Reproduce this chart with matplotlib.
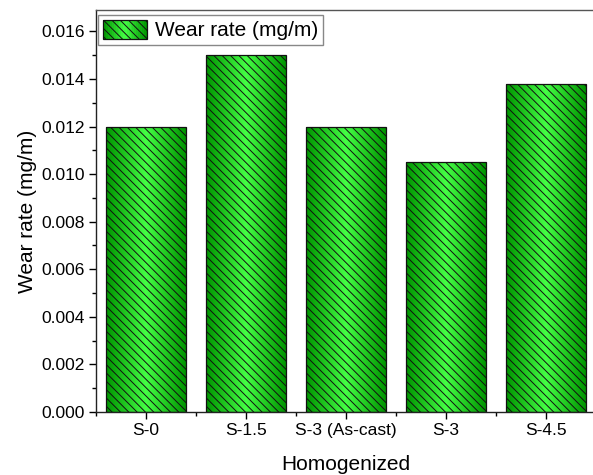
import numpy as np
import matplotlib
matplotlib.use("Agg")
import matplotlib.pyplot as plt
from matplotlib.patches import Rectangle
from matplotlib.legend_handler import HandlerBase
from matplotlib.ticker import MultipleLocator, FixedLocator, FormatStrFormatter

plt.rcParams['font.family'] = ['Liberation Sans', 'DejaVu Sans']
plt.rcParams['hatch.linewidth'] = 0.7
plt.rcParams['hatch.color'] = '#0a2a0a'

categories = ["S-0", "S-1.5", "S-3 (As-cast)", "S-3", "S-4.5"]
wear_rate = [0.0120, 0.0150, 0.0120, 0.0105, 0.0138]
series_name = "Wear rate (mg/m)"

edge_rgb = np.array([0.0, 0.58, 0.0])
center_rgb = np.array([0.27, 1.0, 0.27])


def gradient_colors(n):
    t = np.linspace(0, 1, n)
    w = 1 - np.abs(2 * t - 1)  # 0 at the edges, 1 in the middle
    return edge_rgb[None, :] * (1 - w[:, None]) + center_rgb[None, :] * w[:, None]


fig = plt.figure(figsize=(5.93, 4.75), dpi=100)
ax = fig.add_axes([96 / 593, 1 - 412 / 475, 500 / 593, 402 / 475])

x = np.arange(len(categories))
width = 0.8
grad_img = gradient_colors(256)[None, :, :]

bars = ax.bar(x, wear_rate, width=width, facecolor='none', edgecolor='none', zorder=2)
for b in bars:
    x0, y0 = b.get_x(), b.get_y()
    w, h = b.get_width(), b.get_height()
    im = ax.imshow(grad_img, extent=(x0, x0 + w, y0, y0 + h), aspect='auto',
                   interpolation='bilinear', zorder=2)
    im.set_clip_path(b)
    ax.add_patch(Rectangle((x0, y0), w, h, facecolor='none', edgecolor='#111111',
                           hatch='\\\\\\\\', linewidth=0.9, zorder=3))


class GradientHatchHandler(HandlerBase):
    def create_artists(self, legend, orig_handle, xdescent, ydescent, width, height,
                       fontsize, trans):
        n = 24
        cols = gradient_colors(n)
        artists = []
        sw = width / n
        for i in range(n):
            artists.append(Rectangle((-xdescent + i * sw, -ydescent), sw * 1.05, height,
                                     facecolor=cols[i], edgecolor='none', transform=trans))
        artists.append(Rectangle((-xdescent, -ydescent), width, height, facecolor='none',
                                 edgecolor='#111111', hatch='\\\\\\\\', linewidth=0.9,
                                 transform=trans))
        return artists


handle = Rectangle((0, 0), 1, 1)
leg = ax.legend([handle], [series_name], handler_map={Rectangle: GradientHatchHandler()},
                loc='upper left', bbox_to_anchor=(0.004, 0.9876), fontsize=15,
                handlelength=2.15, handleheight=1.05, handletextpad=0.35,
                borderpad=0.22, borderaxespad=0.0, fancybox=False, framealpha=1)
leg.get_frame().set_edgecolor('#888888')
leg.get_frame().set_linewidth(1.0)

ax.set_xlim(-0.5, len(categories) - 0.5)
ax.set_ylim(0, 0.0169)
ax.set_xticks(x)
ax.set_xticklabels(categories)
ax.xaxis.set_minor_locator(FixedLocator(np.arange(-0.5, len(categories), 1.0)))
ax.yaxis.set_major_locator(MultipleLocator(0.002))
ax.yaxis.set_minor_locator(MultipleLocator(0.001))
ax.yaxis.set_major_formatter(FormatStrFormatter('%.3f'))

ax.tick_params(axis='both', which='major', direction='out', length=5, width=1,
               labelsize=12.5, pad=3)
ax.tick_params(axis='both', which='minor', direction='out', length=3, width=1)
ax.tick_params(top=False, right=False, which='both')

for side in ['left', 'bottom', 'top']:
    ax.spines[side].set_linewidth(1.0)
    ax.spines[side].set_color('#222222')
ax.spines['top'].set_color('#555555')
ax.spines['right'].set_visible(False)

ax.set_ylabel("Wear rate (mg/m)", fontsize=15, labelpad=3)
ax.set_xlabel("Homogenized", fontsize=15, labelpad=12)

fig.savefig("out.png", dpi=100)
